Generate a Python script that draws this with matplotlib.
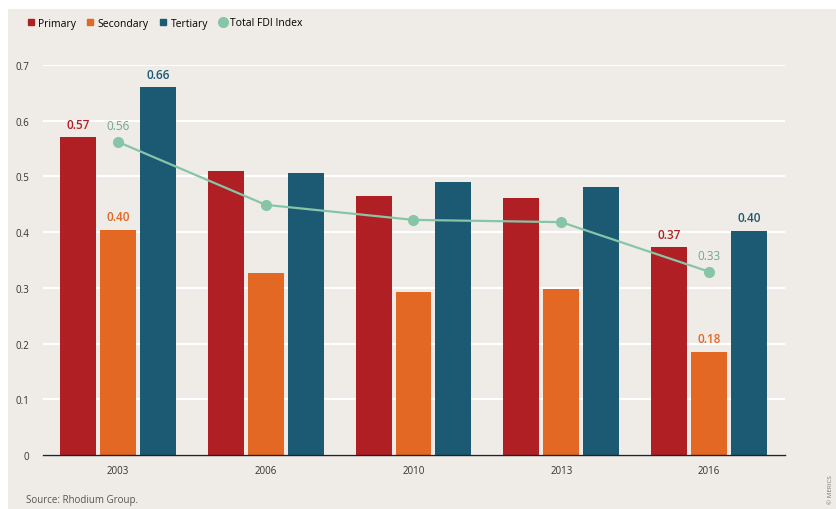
import numpy as np
import matplotlib
matplotlib.use('Agg')
import matplotlib.pyplot as plt
from matplotlib.patches import Rectangle
from matplotlib.lines import Line2D

plt.rcParams['font.family'] = ['Open Sans', 'DejaVu Sans']

years = ['2003', '2006', '2010', '2013', '2016']
primary = [0.57, 0.51, 0.465, 0.461, 0.373]
secondary = [0.404, 0.326, 0.292, 0.298, 0.185]
tertiary = [0.66, 0.506, 0.49, 0.481, 0.402]
fdi_index = [0.562, 0.449, 0.422, 0.418, 0.329]

c_prim = '#b01f24'
c_sec = '#e36823'
c_ter = '#1c5a73'
c_fdi = '#86c6a7'
c_fdi_txt = '#6fa88c'
bg = '#efebe7'

fig = plt.figure(figsize=(8.37, 5.10), dpi=100, facecolor='white')
fig.patches.append(Rectangle((8 / 837, 0), 1, 1 - 10 / 510, transform=fig.transFigure,
                             facecolor=bg, edgecolor='none', zorder=-10))
ax = fig.add_axes([43 / 837, 1 - 456 / 510, (785 - 43) / 837, (456 - 66) / 510])
ax.set_facecolor(bg)

x = np.arange(len(years))
w = 0.243
step = 0.27
ax.bar(x - step, primary, w, color=c_prim, zorder=3)
ax.bar(x, secondary, w, color=c_sec, zorder=3)
ax.bar(x + step, tertiary, w, color=c_ter, zorder=3)
ax.plot(x, fdi_index, color=c_fdi, lw=1.6, marker='o', ms=7, zorder=4)

# value labels for first and last year only
for i in [0, len(years) - 1]:
    ax.text(x[i] - step, primary[i] + 0.012, f'{primary[i]:.2f}', color=c_prim,
            ha='center', va='bottom', fontsize=8.5, fontweight='semibold')
    ax.text(x[i], secondary[i] + 0.012, f'{secondary[i]:.2f}', color=c_sec,
            ha='center', va='bottom', fontsize=8.5, fontweight='semibold')
    ax.text(x[i] + step, tertiary[i] + 0.012, f'{tertiary[i]:.2f}', color=c_ter,
            ha='center', va='bottom', fontsize=8.5, fontweight='semibold')
    ax.text(x[i], fdi_index[i] + 0.017, f'{fdi_index[i]:.2f}', color=c_fdi_txt,
            ha='center', va='bottom', fontsize=8.5)

ax.set_xlim(-0.507, 4.514)
ax.set_ylim(0, 0.7)
ax.set_yticks(np.arange(0, 0.71, 0.1))
ax.set_yticklabels(['0', '0.1', '0.2', '0.3', '0.4', '0.5', '0.6', '0.7'])
ax.set_xticks(x)
ax.set_xticklabels(years)
ax.tick_params(length=0, labelsize=7, colors='#333333')
ax.tick_params(axis='x', pad=7)
ax.tick_params(axis='y', pad=10)
ax.grid(axis='y', color='white', lw=1.5, zorder=0)
ax.set_axisbelow(True)
for s in ['top', 'right', 'left']:
    ax.spines[s].set_visible(False)
ax.spines['bottom'].set_color('#222222')
ax.spines['bottom'].set_linewidth(1)
ax.spines['bottom'].set_zorder(5)

handles = [
    Line2D([], [], marker='s', ls='none', color=c_prim, ms=5),
    Line2D([], [], marker='s', ls='none', color=c_sec, ms=5),
    Line2D([], [], marker='s', ls='none', color=c_ter, ms=5),
    Line2D([], [], marker='o', ls='none', color=c_fdi, ms=7),
]
fig.legend(handles, ['Primary', 'Secondary', 'Tertiary', 'Total FDI Index'],
           loc='center left', bbox_to_anchor=(16 / 837, 1 - 24 / 510), ncol=4,
           frameon=False, fontsize=7.5, handletextpad=0.2, columnspacing=0.9,
           handlelength=1.0)

fig.text(26 / 837, 1 - 501 / 510, 'Source: Rhodium Group.', fontsize=7,
         color='#555555', va='center', ha='left')
fig.text(831 / 837, 1 - 490 / 510, '© MERICS', fontsize=4.5, color='#777777',
         rotation=90, va='center', ha='center')

fig.savefig('out.png', dpi=100, facecolor=fig.get_facecolor())
